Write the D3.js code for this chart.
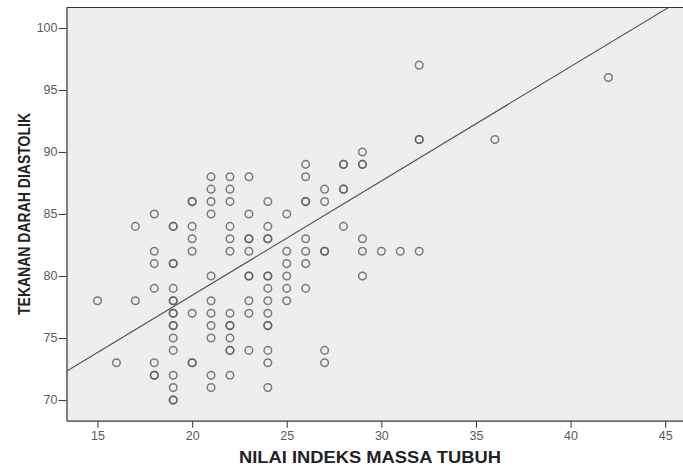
<!DOCTYPE html>
<html><head><meta charset="utf-8">
<script src="https://cdn.jsdelivr.net/npm/d3@7"></script>
<style>body{margin:0;background:#fff}svg{display:block}</style>
</head><body>
<script>
// BMI (x) and diastolic BP (y); duplicated observations are listed twice
const bmi = [
 15,
 16,
 17,17,
 18,18,18,18,18,18,18,
 19,19,19,19,19,19,19,19,19,19,19,19,19,19,19,19,19,
 20,20,20,20,20,20,20,20,
 21,21,21,21,21,21,21,21,21,21,21,
 22,22,22,22,22,22,22,22,22,22,22,22,22,
 23,23,23,23,23,23,23,23,23,23,
 24,24,24,24,24,24,24,24,24,24,24,24,24,24,
 25,25,25,25,25,25,
 26,26,26,26,26,26,26,26,
 27,27,27,27,27,27,
 28,28,28,28,28,
 29,29,29,29,29,29,
 30,
 31,
 32,32,32,32,
 36,
 42
];
const dbp = [
 78,
 73,
 84,78,
 85,82,81,79,73,72,72,
 84,84,81,81,79,78,78,77,77,76,76,75,74,72,71,70,70,
 86,86,84,83,82,77,73,73,
 88,87,86,85,80,78,77,76,75,72,71,
 88,87,86,84,83,82,77,76,76,75,74,74,72,
 88,85,83,83,82,80,80,78,77,74,
 86,84,83,83,80,80,79,78,77,76,76,74,73,71,
 85,82,81,80,79,78,
 89,88,86,86,83,82,81,79,
 87,86,82,82,74,73,
 89,89,87,87,84,
 90,89,89,83,82,80,
 82,
 82,
 97,91,91,82,
 91,
 96
];
const xTicks = [15,20,25,30,35,40,45];
const yTicks = [70,75,80,85,90,95,100];
const fitIntercept = 60.0, fitSlope = 0.922;
const xTitle = "NILAI INDEKS MASSA TUBUH";
const yTitle = "TEKANAN DARAH DIASTOLIK";

const W = 683, H = 466;
const L = 66.5, T = 7.5, R = 684.1, B = 420.7;
const svg = d3.select("body").append("svg").attr("width", W).attr("height", H);
const x = d3.scaleLinear().domain([13.36, 46]).range([L, R]);
const y = d3.scaleLinear().domain([68.33, 101.65]).range([B, T]);

svg.append("rect").attr("x", L).attr("y", T).attr("width", R - L).attr("height", B - T)
  .attr("fill", "#eeeeee");
svg.append("defs").append("clipPath").attr("id", "pc")
  .append("rect").attr("x", L).attr("y", T).attr("width", R - L).attr("height", B - T);

// top border
svg.append("line").attr("x1", L).attr("x2", R).attr("y1", T).attr("y2", T)
  .attr("stroke", "#333").attr("stroke-width", 1);

const xa = svg.append("g").attr("transform", `translate(0,${B})`)
  .call(d3.axisBottom(x).tickValues(xTicks).tickSize(7).tickPadding(3).tickSizeOuter(0));
const ya = svg.append("g").attr("transform", `translate(${L},0)`)
  .call(d3.axisLeft(y).tickValues(yTicks).tickSize(8).tickPadding(1).tickSizeOuter(0));
[xa, ya].forEach(a => {
  a.select(".domain").attr("stroke", "#333").attr("stroke-width", 1.2);
  a.selectAll(".tick line").attr("stroke", "#444").attr("stroke-width", 1.1);
  a.selectAll(".tick text").attr("fill", "#5a5a5a")
    .style("font-family", "'Liberation Sans', Arial, sans-serif").style("font-size", "12.5px");
});

// regression line
const x0 = x.domain()[0], x1 = x.domain()[1];
svg.append("line").attr("clip-path", "url(#pc)")
  .attr("x1", x(x0)).attr("y1", y(fitIntercept + fitSlope * x0))
  .attr("x2", x(x1)).attr("y2", y(fitIntercept + fitSlope * x1))
  .attr("stroke", "#555").attr("stroke-width", 1.1);

svg.append("g").selectAll("circle").data(d3.range(bmi.length)).join("circle")
  .attr("cx", i => x(bmi[i])).attr("cy", i => y(dbp[i])).attr("r", 3.8)
  .attr("fill", "none").attr("stroke", "#5e5e5e").attr("stroke-width", 1.5)
  .attr("stroke-opacity", 0.8);

svg.append("text").attr("x", 370).attr("y", 463).attr("text-anchor", "middle")
  .attr("textLength", 262).attr("lengthAdjust", "spacingAndGlyphs")
  .style("font-family", "'Liberation Sans', Arial, sans-serif").style("font-weight", "bold")
  .style("font-size", "16px").attr("fill", "#222").text(xTitle);
svg.append("text").attr("transform", "translate(30,214) rotate(-90)").attr("text-anchor", "middle")
  .attr("textLength", 202).attr("lengthAdjust", "spacingAndGlyphs")
  .style("font-family", "'Liberation Sans', Arial, sans-serif").style("font-weight", "bold")
  .style("font-size", "16px").attr("fill", "#222").text(yTitle);
</script>
</body></html>
